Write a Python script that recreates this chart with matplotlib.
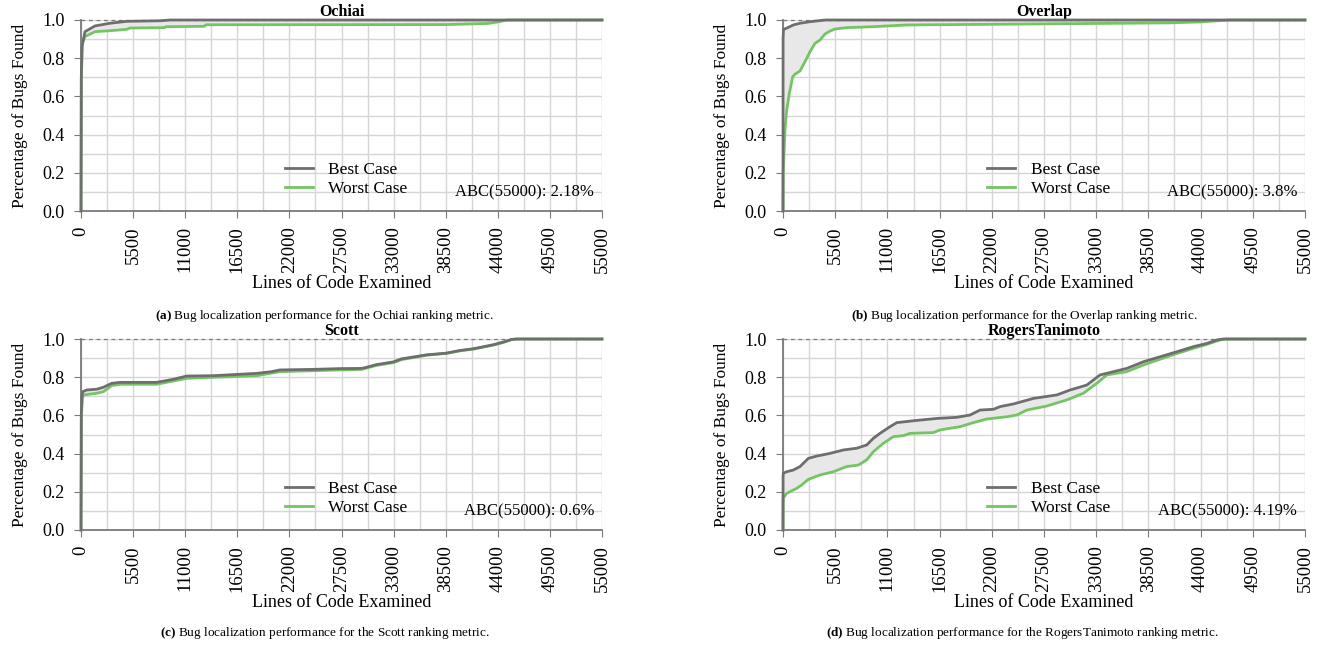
import numpy as np
import matplotlib
matplotlib.use("Agg")
import matplotlib.pyplot as plt

plt.rcParams['font.family'] = ['Liberation Serif', 'DejaVu Serif']
plt.rcParams['mathtext.fontset'] = 'custom'
plt.rcParams['mathtext.rm'] = 'Liberation Serif'
plt.rcParams['mathtext.bf'] = 'Liberation Serif:bold'

# cumulative fraction of bugs found vs. lines of code examined
ochiai_best_x = [0, 30, 100, 420, 1480, 3060, 4820, 8340, 9400, 55000]
ochiai_best_y = [0.0, 0.70, 0.86, 0.939, 0.969, 0.983, 0.993, 0.996, 1.0, 1.0]
ochiai_worst_x = [0, 40, 150, 420, 1480, 3060, 4820, 5170, 8800, 9000, 13000, 13200, 38500, 43000, 44000, 45000, 55000]
ochiai_worst_y = [0.0, 0.70, 0.88, 0.913, 0.939, 0.944, 0.951, 0.958, 0.960, 0.965, 0.967, 0.975, 0.976, 0.982, 0.99, 1.0, 1.0]

overlap_best_x = [0, 10, 50, 500, 1090, 1790, 2850, 3900, 4500, 55000]
overlap_best_y = [0.0, 0.90, 0.95, 0.96, 0.974, 0.983, 0.991, 0.997, 1.0, 1.0]
overlap_worst_x = [0, 20, 210, 390, 670, 1020, 1260, 1790, 2320, 2850, 3370, 3900, 4430,
                   4950, 5480, 6710, 9520, 13040, 20760, 40800, 44000, 47000, 55000]
overlap_worst_y = [0.0, 0.20, 0.424, 0.529, 0.616, 0.703, 0.716, 0.733, 0.782, 0.834, 0.878, 0.895, 0.927,
                   0.942, 0.953, 0.960, 0.965, 0.974, 0.977, 0.985, 0.99, 1.0, 1.0]

scott_best_x = [0, 30, 100, 180, 600, 1650, 2350, 3240, 4120, 7990, 9740, 11150, 13960, 18540, 20120, 21000,
                24520, 27330, 29610, 30150, 31200, 32960, 33840, 36480, 38590, 40010, 41420, 43530, 44580,
                45470, 46000, 55000]
scott_best_y = [0.0, 0.60, 0.70, 0.724, 0.733, 0.737, 0.747, 0.768, 0.773, 0.773, 0.789, 0.806, 0.808, 0.820,
                0.829, 0.838, 0.841, 0.845, 0.846, 0.852, 0.866, 0.880, 0.896, 0.917, 0.926, 0.940, 0.949,
                0.970, 0.984, 0.998, 1.0, 1.0]
scott_worst_x = [0, 40, 150, 250, 1650, 2350, 3240, 4120, 7990, 11150, 18540, 21000, 27330, 29610, 30150,
                 31200, 32960, 33840, 36480, 38590, 40010, 41420, 43530, 44580, 45470, 46000, 55000]
scott_worst_y = [0.0, 0.60, 0.69, 0.707, 0.716, 0.724, 0.756, 0.763, 0.763, 0.794, 0.808, 0.829, 0.838, 0.841,
                 0.848, 0.862, 0.876, 0.892, 0.915, 0.925, 0.938, 0.947, 0.968, 0.982, 0.997, 1.0, 1.0]

rt_best_x = [0, 10, 30, 390, 1090, 1790, 2670, 3550, 4950, 6360, 7760, 8820, 9520, 10220, 11280, 11980,
             13740, 16200, 18310, 19710, 20760, 22170, 22870, 24280, 26390, 28850, 30250, 32010, 33410,
             34820, 36220, 37980, 39730, 41490, 43250, 44660, 45710, 46400, 55000]
rt_best_y = [0.0, 0.28, 0.297, 0.305, 0.314, 0.332, 0.375, 0.387, 0.401, 0.419, 0.428, 0.445, 0.480, 0.506,
             0.541, 0.562, 0.572, 0.584, 0.590, 0.602, 0.628, 0.632, 0.646, 0.660, 0.689, 0.707, 0.733,
             0.759, 0.812, 0.829, 0.846, 0.881, 0.907, 0.933, 0.960, 0.977, 0.995, 1.0, 1.0]
rt_worst_x = [0, 10, 390, 1440, 1970, 2670, 3900, 5300, 6710, 7940, 8820, 9520, 10580, 11630, 12690, 13390,
              15850, 16550, 18660, 20060, 21470, 23580, 24630, 25700, 27790, 29900, 31660, 33060, 34120,
              36220, 37980, 39730, 41490, 43250, 44660, 46060, 46700, 55000]
rt_worst_y = [0.0, 0.166, 0.192, 0.218, 0.236, 0.265, 0.288, 0.305, 0.332, 0.340, 0.367, 0.410, 0.454,
              0.489, 0.494, 0.506, 0.510, 0.524, 0.541, 0.562, 0.581, 0.593, 0.602, 0.628, 0.649, 0.681,
              0.716, 0.768, 0.812, 0.829, 0.864, 0.894, 0.924, 0.951, 0.972, 0.995, 1.0, 1.0]

metrics = ['Ochiai', 'Overlap', 'Scott', 'RogersTanimoto']
abc_values = ['2.18%', '3.8%', '0.6%', '4.19%']
letters = ['a', 'b', 'c', 'd']
curves = [
    (ochiai_best_x, ochiai_best_y, ochiai_worst_x, ochiai_worst_y),
    (overlap_best_x, overlap_best_y, overlap_worst_x, overlap_worst_y),
    (scott_best_x, scott_best_y, scott_worst_x, scott_worst_y),
    (rt_best_x, rt_best_y, rt_worst_x, rt_worst_y),
]

best_color = '#6e6e6e'
worst_color = '#74c464'
fill_color = '#e8e8e8'
spine_color = '#7a7a7a'
grid_color = '#d6d6d6'

fig = plt.figure(figsize=(13.2, 6.48), dpi=100)
W, H = 1320, 648
# axes boxes in pixels: left, top, right, bottom
boxes = [(81, 20, 602, 211), (783, 20, 1305, 211), (81, 339, 602, 530), (783, 339, 1305, 530)]
caption_pos = [(324, 316), (1024, 316), (325, 633), (1023, 633)]

for i, (name, abc, letter, (bx, by, wx, wy)) in enumerate(zip(metrics, abc_values, letters, curves)):
    l, t, r, b = boxes[i]
    ax = fig.add_axes([l / W, 1 - b / H, (r - l) / W, (b - t) / H])

    # shaded area between best and worst case
    ax.fill(np.concatenate([bx, wx[::-1]]), np.concatenate([by, wy[::-1]]),
            color=fill_color, lw=0, zorder=1)
    ax.axhline(1.0, color=spine_color, lw=0.9, ls=(0, (3, 3)), zorder=1.5, clip_on=False)
    ax.plot(wx, wy, color=worst_color, lw=2, label='Worst Case', zorder=3, clip_on=False)
    ax.plot(bx, by, color=best_color, lw=2, label='Best Case', zorder=4, clip_on=False)

    ax.set_xlim(0, 55000)
    ax.set_ylim(0, 1.0)
    ax.set_xticks(np.arange(0, 55001, 5500))
    ax.set_xticks(np.arange(0, 55001, 2750), minor=True)
    ax.set_yticks(np.arange(0, 1.01, 0.2))
    ax.set_yticks(np.arange(0, 1.01, 0.1), minor=True)
    ax.set_yticklabels(['%.1f' % v for v in np.arange(0, 1.01, 0.2)])
    ax.tick_params(axis='x', which='major', labelrotation=90, labelsize=13.5, length=5,
                   color=spine_color, direction='out', pad=6)
    ax.tick_params(axis='y', which='major', labelsize=13, length=5, color=spine_color,
                   direction='out', pad=7)
    ax.tick_params(which='minor', length=0)
    ax.grid(True, which='both', color=grid_color, lw=1, zorder=0)
    ax.set_axisbelow(True)

    for side in ['top', 'right']:
        ax.spines[side].set_visible(False)
    for side in ['left', 'bottom']:
        ax.spines[side].set_color(spine_color)
        ax.spines[side].set_linewidth(1.3)

    ax.set_title(name, fontsize=11.5, fontweight='bold', pad=1)
    ax.set_xlabel('Lines of Code Examined', fontsize=13, labelpad=1)
    ax.set_ylabel('Percentage of Bugs Found', fontsize=12.5, labelpad=10)

    handles, labels = ax.get_legend_handles_labels()
    ax.legend(handles[::-1], labels[::-1], loc='lower left', bbox_to_anchor=(0.365, 0.0),
              frameon=False, fontsize=12.5, handlelength=1.6, handletextpad=0.9,
              labelspacing=0.15, borderpad=0.3)
    ax.text(0.985, 0.095, 'ABC(55000): ' + abc, transform=ax.transAxes, ha='right', va='center',
            fontsize=12)

    cx, cy = caption_pos[i]
    fig.text(cx / W, 1 - cy / H,
             r'$\mathbf{(%s)}$ Bug localization performance for the %s ranking metric.' % (letter, name),
             fontsize=9.5, ha='center', va='center')

fig.savefig('out.png', dpi=100)
